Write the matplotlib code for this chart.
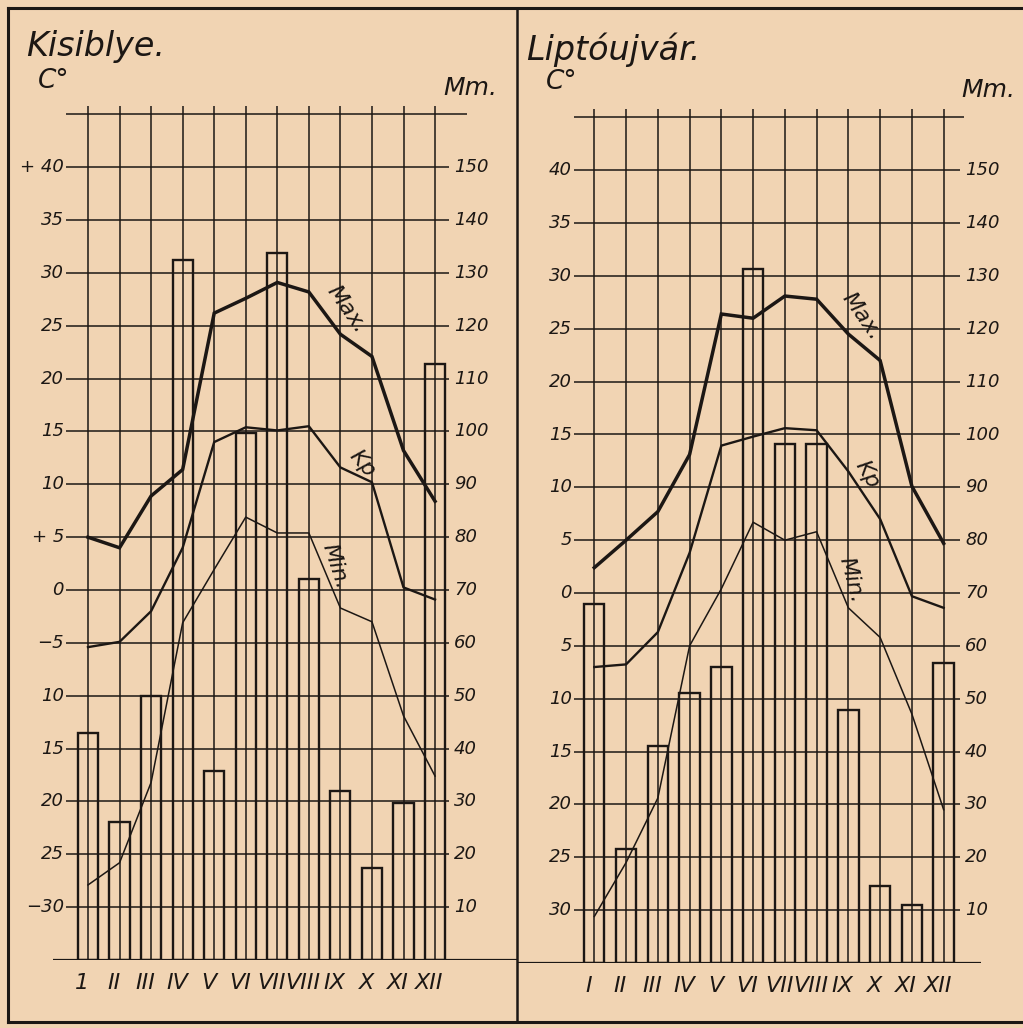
import matplotlib
matplotlib.use('Agg')
import matplotlib.pyplot as plt
from matplotlib.lines import Line2D
import numpy as np

# ---------------- data ----------------
months = [1, 2, 3, 4, 5, 6, 7, 8, 9, 10, 11, 12]
month_labels_a = ['1', 'II', 'III', 'IV', 'V', 'VI', 'VII', 'VIII', 'IX', 'X', 'XI', 'XII']
month_labels_b = ['I', 'II', 'III', 'IV', 'V', 'VI', 'VII', 'VIII', 'IX', 'X', 'XI', 'XII']

temp_ticks = [40, 35, 30, 25, 20, 15, 10, 5, 0, -5, -10, -15, -20, -25, -30]
temp_labels_a = ['+ 40', '35', '30', '25', '20', '15', '10', '+ 5', '0', '\u22125',
                 '10', '15', '20', '25', '\u221230']
temp_labels_b = ['40', '35', '30', '25', '20', '15', '10', '5', '0', '5',
                 '10', '15', '20', '25', '30']
mm_ticks = [150, 140, 130, 120, 110, 100, 90, 80, 70, 60, 50, 40, 30, 20, 10]
mm_labels = ['150', '140', '130', '120', '110', '100', '90', '80', '70', '60',
             '50', '40', '30', '20', '10']

# Kisiblye
kis_precip = [42.9, 26.2, 50, 132.5, 35.8, 99.7, 133.8, 72.1, 32, 17.4, 29.8, 112.7]
kis_max = [5.0, 4.0, 8.9, 11.4, 26.2, 27.6, 29.1, 28.2, 24.2, 22.1, 13.2, 8.4]
kis_kp = [-5.4, -4.9, -2.0, 4.0, 14.0, 15.4, 15.1, 15.5, 11.6, 10.2, 0.25, -0.9]
kis_min = [-27.9, -25.8, -18.2, -3.1, 1.95, 6.9, 5.4, 5.4, -1.7, -3.0, -11.9, -17.6]

# Liptóujvár
lip_precip = [68, 21.6, 41, 51.1, 56, 131.3, 98.2, 98.2, 47.9, 14.6, 11, 56.7]
lip_max = [2.4, 5.0, 7.7, 13.1, 26.4, 26.0, 28.1, 27.8, 24.5, 22.0, 10.1, 4.7]
lip_kp = [-7.0, -6.75, -3.7, 3.8, 13.95, 14.8, 15.6, 15.4, 11.5, 7.0, -0.3, -1.4]
lip_min = [-30.6, -25.5, -19.4, -5.0, 0.4, 6.7, 5.0, 5.8, -1.4, -4.2, -11.45, -20.5]

# ---------------- style ----------------
PAPER = '#F1D4B3'
INK = '#1c1714'
W, H = 1023, 1028
T_LO, T_HI = -35, 45.75
FONT = 'DejaVu Sans'

fig = plt.figure(figsize=(W / 100, H / 100), dpi=100)
fig.patch.set_facecolor(PAPER)


def fx(px):
    return px / W


def fy(py):
    return 1 - py / H


def panel(title, tlabels, mlabels, precip, tmax, tkp, tmin,
          x0, x1, ybot, xI, dx, grid_l, grid_r, top_r, lab_l, lab_r,
          title_xy, c_xy, mm_xy, lbl_pos):
    ppd = 10.57
    ytop = ybot - (T_HI - T_LO) * ppd
    ax = fig.add_axes([fx(x0), fy(ybot), fx(x1 - x0), (ybot - ytop) / H])
    ax.set_facecolor('none')
    for s in ax.spines.values():
        s.set_visible(False)
    ax.set_xticks([])
    ax.set_yticks([])

    def d(px):
        return 1 + (px - xI) / dx

    ax.set_xlim(d(x0), d(x1))
    ax.set_ylim(T_LO, T_HI)

    ax2 = ax.twinx()
    ax2.set_ylim(0, (T_HI - T_LO) * 2)
    for s in ax2.spines.values():
        s.set_visible(False)
    ax2.set_yticks([])
    ax2.set_xlim(d(x0), d(x1))

    # grid
    ax.hlines(temp_ticks, d(grid_l), d(grid_r), color=INK, lw=1.1, zorder=1)
    ax.hlines([45], d(grid_l), d(top_r), color=INK, lw=1.1, zorder=1)
    ax.vlines(months, T_LO, T_HI, color=INK, lw=1.1, zorder=1)
    ax.hlines([T_LO], d(x0), d(x1), color=INK, lw=1.6, zorder=2)

    # bars
    ax2.bar(months, precip, width=0.64, fill=False, edgecolor=INK, lw=1.7, zorder=3)

    # lines
    ax.plot(months, tmax, color=INK, lw=2.5, zorder=4, solid_joinstyle='miter')
    ax.plot(months, tkp, color=INK, lw=1.7, zorder=4)
    ax.plot(months, tmin, color=INK, lw=1.1, zorder=4)

    # tick labels
    for t, lab in zip(temp_ticks, tlabels):
        ax.text(d(lab_l), t, lab, ha='right', va='center', fontsize=13,
                style='italic', family=FONT, color=INK, clip_on=False)
    for m, lab in zip(mm_ticks, mm_labels):
        ax2.text(d(lab_r), m, lab, ha='left', va='center', fontsize=13,
                 style='italic', family=FONT, color=INK, clip_on=False)
    for m, lab in zip(months, mlabels):
        ax.text(m - 0.18, T_LO - 2.2, lab, ha='center', va='center', fontsize=16,
                style='italic', family=FONT, color=INK, clip_on=False)

    # series labels
    for (xp, tp, txt, rot) in lbl_pos:
        ax.text(xp, tp, txt, ha='center', va='center', fontsize=16, style='italic',
                family=FONT, color=INK, rotation=rot, rotation_mode='anchor')

    fig.text(fx(title_xy[0]), fy(title_xy[1]), title, ha='left', va='baseline',
             fontsize=24, style='italic', family=FONT, color=INK)
    fig.text(fx(c_xy[0]), fy(c_xy[1]), 'C°', ha='center', va='center',
             fontsize=19, style='italic', family=FONT, color=INK)
    fig.text(fx(mm_xy[0]), fy(mm_xy[1]), 'Mm.', ha='center', va='center',
             fontsize=18, style='italic', family=FONT, color=INK)


panel('Kisiblye.', temp_labels_a, month_labels_a, kis_precip, kis_max, kis_kp, kis_min,
      x0=53, x1=517, ybot=960, xI=88, dx=31.55,
      grid_l=66, grid_r=449, top_r=467, lab_l=64, lab_r=454,
      title_xy=(26, 56), c_xy=(54, 81), mm_xy=(470, 88),
      lbl_pos=[(9.2, 26.6, 'Max.', -55), (9.68, 12.0, 'Kp', -50), (8.85, 2.2, 'Min.', -72)])

panel('Liptóujvár.', temp_labels_b, month_labels_b, lip_precip, lip_max, lip_kp, lip_min,
      x0=517, x1=981, ybot=963, xI=594.3, dx=31.76,
      grid_l=574, grid_r=960, top_r=964, lab_l=572, lab_r=965,
      title_xy=(526, 60), c_xy=(562, 82), mm_xy=(988, 90),
      lbl_pos=[(9.42, 26.2, 'Max.', -55), (9.58, 11.2, 'Kp', -60), (9.1, 1.2, 'Min.', -75)])

# frame
for (xa, ya, xb, yb, lw) in [(8, 8, 1023, 8, 2.2), (8, 8, 8, 1022, 2.2),
                             (8, 1022, 1023, 1022, 2.2), (517, 8, 517, 1022, 1.8)]:
    fig.add_artist(Line2D([fx(xa), fx(xb)], [fy(ya), fy(yb)], color=INK, lw=lw,
                          transform=fig.transFigure))

fig.savefig('out.png', dpi=100, facecolor=PAPER)
